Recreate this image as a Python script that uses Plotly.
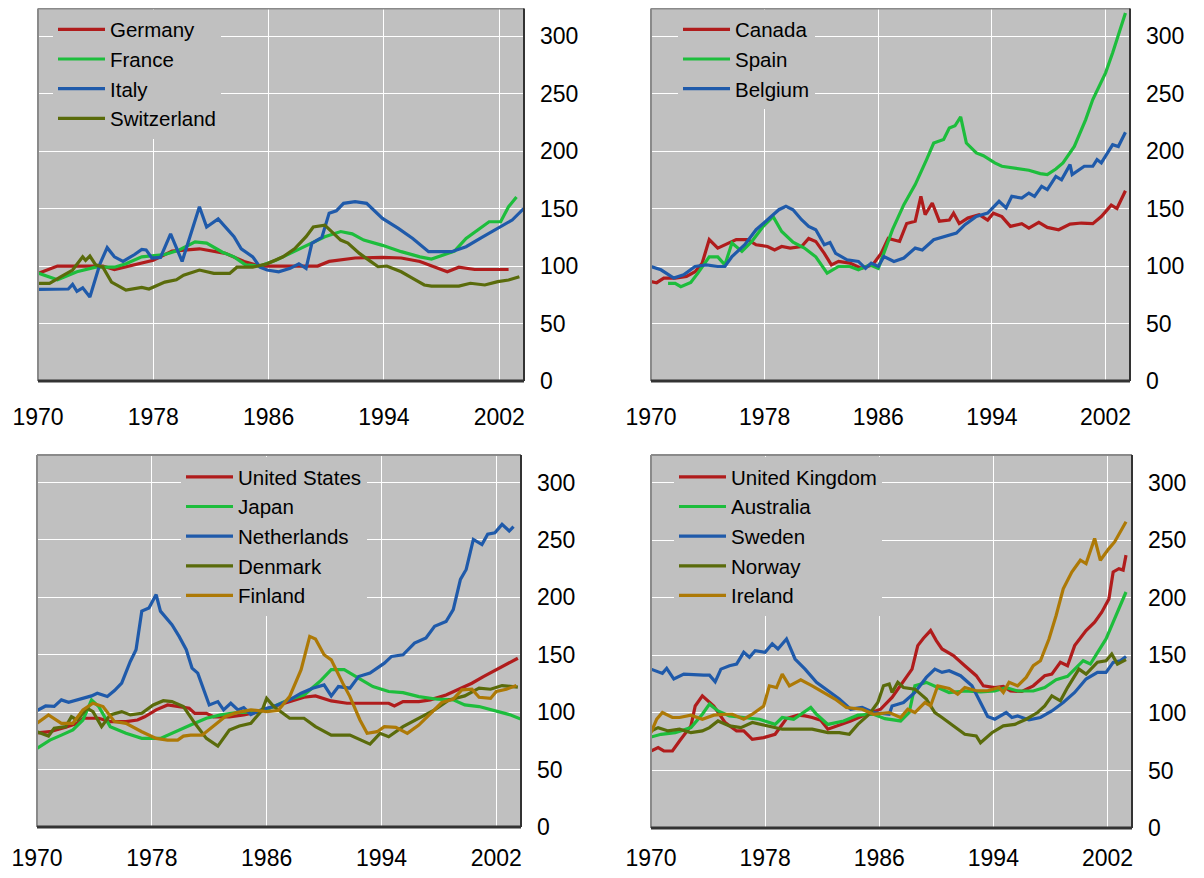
import plotly.graph_objects as go

# ---------------- data (index, 1985/86 = 100) ----------------
# Panel 1
germany_x = [1970.0, 1971.35, 1974.5, 1975.3, 1978.0, 1979.3, 1981.2, 1983.0, 1984.3, 1985.4, 1986.7, 1989.4, 1990.2, 1992.0, 1993.9, 1995.2, 1996.5, 1997.3, 1998.4, 1999.2, 2000.3, 2002.65]
germany_y = [93.6, 100, 100, 97, 105, 113, 115, 111, 104, 100, 100, 100, 104, 107, 107.5, 107, 104, 100, 95, 99, 97, 97]
france_x = [1970.0, 1971.35, 1972.7, 1974.0, 1975.3, 1976.1, 1977.2, 1978.8, 1979.8, 1980.9, 1981.7, 1982.8, 1983.6, 1984.4, 1985.4, 1986.5, 1987.5, 1988.6, 1989.9, 1991.0, 1991.8, 1992.6, 1993.9, 1995.2, 1996.5, 1997.3, 1998.1, 1998.9, 1999.7, 2000.5, 2001.3, 2002.1, 2002.65, 2003.2]
france_y = [94, 88, 95, 99, 99, 102, 108, 110, 114, 121, 120, 112, 108, 101, 100, 105, 111, 118, 125.5, 130, 128, 122.6, 118, 112.5, 108, 106, 109.6, 113, 124, 131, 138.5, 138.5, 151.6, 160]
italy_x = [1970.0, 1970.8, 1972.1, 1972.4, 1972.7, 1973.1, 1973.6, 1974.3, 1974.8, 1975.3, 1975.9, 1976.7, 1977.2, 1977.5, 1977.9, 1978.5, 1979.2, 1980.0, 1981.2, 1981.7, 1982.5, 1983.6, 1984.1, 1984.9, 1985.4, 1985.9, 1986.7, 1987.5, 1988.1, 1988.6, 1989.0, 1989.7, 1990.2, 1990.7, 1991.2, 1992.0, 1992.8, 1993.9, 1995.0, 1996.0, 1997.1, 1998.7, 1999.7, 2000.8, 2001.9, 2002.9, 2003.7]
italy_y = [79.7, 80, 80, 84, 78, 81, 73, 102, 116, 108, 104, 110, 114.5, 114, 107, 107.5, 128, 104, 151.6, 134, 141, 125.5, 115, 108, 99, 96.5, 95, 98, 102, 98, 119.7, 125, 146, 148, 154.5, 156, 154.5, 141.4, 132.8, 124, 112.5, 112.5, 116.8, 125, 132.8, 140, 150]
swiss_x = [1970.0, 1970.8, 1971.6, 1972.4, 1973.1, 1973.3, 1973.6, 1974.0, 1974.5, 1975.1, 1976.1, 1977.2, 1977.7, 1978.8, 1979.6, 1980.1, 1981.2, 1982.2, 1983.3, 1983.8, 1984.9, 1985.9, 1987.0, 1987.8, 1988.6, 1989.1, 1989.9, 1990.5, 1991.0, 1991.5, 1992.3, 1993.1, 1993.6, 1994.2, 1995.2, 1996.0, 1996.8, 1997.3, 1999.2, 2000.0, 2001.0, 2001.9, 2002.65, 2003.4]
swiss_y = [85, 85, 90.7, 96.5, 108, 105, 108.7, 101, 99, 86, 79, 81.4, 80, 86, 88, 92, 96.5, 93.6, 93.6, 99, 99, 102, 108, 115, 125.5, 134, 135.6, 128, 122.6, 120, 111, 103.8, 99.4, 100, 95, 89.3, 83.5, 82.6, 82.6, 85, 83.5, 86.4, 87.8, 90.7]

# Panel 2
canada_x = [1970.0, 1970.4, 1970.9, 1971.7, 1972.5, 1973.1, 1973.6, 1974.1, 1974.7, 1975.2, 1976.0, 1976.8, 1977.4, 1978.2, 1978.7, 1979.2, 1979.8, 1980.6, 1981.1, 1981.6, 1982.2, 1982.7, 1983.2, 1984.0, 1984.8, 1985.6, 1986.2, 1986.7, 1987.5, 1988.0, 1988.6, 1989.0, 1989.3, 1989.8, 1990.3, 1991.0, 1991.3, 1991.7, 1992.3, 1993.1, 1993.7, 1994.1, 1994.7, 1995.3, 1996.1, 1996.6, 1997.3, 1997.9, 1998.7, 1999.5, 2000.3, 2001.1, 2001.7, 2002.4, 2002.8, 2003.4]
canada_y = [86.5, 85.5, 89.5, 89.5, 91, 95, 102.5, 123, 115.6, 118.5, 123, 123, 118.5, 117, 114, 117, 115.6, 117, 124, 121.4, 111, 101, 104, 102.5, 98, 101, 111, 124, 121.4, 137, 139, 160.6, 144.6, 154.8, 139, 140, 146, 137, 141.7, 144.6, 140, 146, 143, 134.5, 136.8, 133, 138, 133.6, 131.6, 136.5, 137.4, 136.8, 143, 153, 150, 165.5]
spain_x = [1971.2, 1971.7, 1972.1, 1972.8, 1973.3, 1974.1, 1974.7, 1975.2, 1975.7, 1976.4, 1977.1, 1977.9, 1978.6, 1979.2, 1980.0, 1980.8, 1981.6, 1982.4, 1983.2, 1984.0, 1984.6, 1985.4, 1986.0, 1986.4, 1987.0, 1987.8, 1988.6, 1989.4, 1989.9, 1990.6, 1991.0, 1991.4, 1991.8, 1992.2, 1992.9, 1993.4, 1994.2, 1994.7, 1995.5, 1996.6, 1997.4, 1997.9, 1998.5, 1999.0, 1999.8, 2000.6, 2001.1, 2002.0, 2002.5, 2003.4]
spain_y = [85, 85, 82, 85.7, 93.8, 108, 108, 101, 120, 112.7, 121.4, 134.5, 143, 130, 120.8, 115.6, 108, 93.8, 99.6, 99.6, 96.7, 101, 98, 111, 131.6, 153.4, 170.8, 192.6, 207, 210, 220, 222, 229.7, 207, 198.4, 196, 189.7, 186.8, 185.3, 183.3, 180.4, 179.5, 184.4, 189.7, 204, 227.4, 244.8, 268, 285.5, 320]
belgium_x = [1970.0, 1970.7, 1971.6, 1972.3, 1973.1, 1973.9, 1974.7, 1975.2, 1975.7, 1976.6, 1977.4, 1978.2, 1979.0, 1979.5, 1980.0, 1980.6, 1981.1, 1981.6, 1982.2, 1982.6, 1983.0, 1983.8, 1984.6, 1985.1, 1985.5, 1986.0, 1986.4, 1987.1, 1987.8, 1988.6, 1989.1, 1989.9, 1990.6, 1991.5, 1992.1, 1992.9, 1993.7, 1994.5, 1995.0, 1995.4, 1996.1, 1996.6, 1997.0, 1997.5, 1997.9, 1998.5, 1998.9, 1999.5, 1999.65, 2000.5, 2001.1, 2001.4, 2001.7, 2002.5, 2002.9, 2003.4]
belgium_y = [99.6, 96.7, 89.5, 92.4, 99.6, 101, 99.6, 99.6, 108.3, 118.5, 131.6, 140.3, 149, 152, 149, 140.3, 134.5, 131.6, 118.5, 120.5, 111, 105.4, 104, 98, 102.5, 99.6, 108.3, 104, 107, 115.6, 114, 122.9, 125.2, 128.7, 136, 143.2, 146, 156.3, 150.5, 160.6, 159.2, 163.5, 160.6, 169.3, 166.4, 178, 175, 188.2, 179.5, 186.8, 186.8, 192.6, 189.7, 205.6, 204, 216.4]

# Panel 3
us_x = [1970.0, 1970.9, 1972.0, 1972.8, 1973.2, 1974.3, 1975.1, 1976.2, 1977.0, 1977.5, 1978.3, 1979.1, 1979.9, 1980.6, 1981.0, 1981.8, 1982.3, 1983.4, 1984.4, 1985.5, 1986.5, 1987.6, 1988.6, 1989.4, 1990.5, 1991.6, 1994.5, 1994.9, 1995.5, 1996.6, 1997.4, 1998.5, 1999.2, 2000.3, 2001.1, 2002.2, 2003.5]
us_y = [82, 83, 86.8, 90.3, 94.7, 94.7, 91.8, 91.8, 93.2, 96, 102, 106.3, 104.9, 103.4, 99, 99, 96, 96, 97.6, 100.5, 104.9, 109.2, 113, 114.2, 109.8, 107.8, 107.8, 105.4, 109.2, 109.2, 110.7, 115, 118.8, 125.2, 131, 138.4, 147]
japan_x = [1970.0, 1970.9, 1971.7, 1972.5, 1973.2, 1973.8, 1974.3, 1975.1, 1976.2, 1977.3, 1978.6, 1979.6, 1980.7, 1981.8, 1982.8, 1983.9, 1985.5, 1986.5, 1987.6, 1988.6, 1989.7, 1990.5, 1991.4, 1992.4, 1993.4, 1994.5, 1995.5, 1996.6, 1997.9, 1999.0, 1999.8, 2000.8, 2001.9, 2003.0, 2003.75]
japan_y = [68.5, 75.7, 80, 84.5, 93.2, 110.7, 104.9, 87.4, 81.6, 77.2, 77.2, 83, 88.8, 94.7, 97.6, 99.6, 100.5, 104.9, 111.3, 115, 126.7, 137, 137, 129.6, 122.3, 118, 117, 113.6, 111.3, 110.7, 106.3, 104.9, 101.4, 97.6, 93.8]
neth_x = [1970.0, 1970.6, 1971.2, 1971.7, 1972.2, 1973.0, 1973.8, 1974.2, 1974.9, 1975.4, 1975.9, 1976.5, 1976.9, 1977.3, 1977.8, 1978.3, 1978.6, 1979.4, 1979.9, 1980.4, 1980.8, 1981.2, 1982.0, 1982.6, 1983.0, 1983.5, 1984.0, 1984.4, 1984.9, 1985.7, 1986.5, 1987.6, 1988.4, 1989.2, 1990.0, 1990.5, 1991.0, 1991.8, 1992.4, 1993.2, 1993.7, 1994.2, 1994.7, 1995.5, 1996.3, 1997.1, 1997.7, 1998.5, 1999.0, 1999.5, 1999.9, 2000.4, 2001.0, 2001.4, 2001.9, 2002.4, 2002.9, 2003.2]
neth_y = [101.4, 105.4, 105, 110.7, 108.6, 111.3, 114.2, 116.5, 113.6, 118.8, 125.3, 144.2, 154.4, 188, 190.8, 202.4, 188, 176.2, 166, 154.4, 138.4, 134, 106.3, 109.2, 102, 107.8, 102, 104, 98, 102.5, 104.9, 110.7, 116.5, 120.9, 123.8, 114.2, 122.3, 120.9, 131, 134, 138.4, 142.7, 148.6, 150, 160.2, 164.6, 174.8, 179, 189.3, 215.6, 224.3, 250.5, 246, 255, 256.3, 263.6, 257.8, 261.6]
denmark_x = [1970.0, 1970.8, 1971.2, 1972.0, 1972.4, 1972.8, 1973.5, 1973.9, 1974.5, 1975.1, 1975.9, 1976.5, 1977.3, 1978.1, 1978.8, 1979.4, 1980.2, 1981.0, 1981.8, 1982.6, 1983.4, 1984.1, 1984.9, 1985.7, 1986.0, 1986.5, 1987.6, 1988.6, 1989.4, 1990.5, 1991.8, 1993.2, 1993.9, 1994.5, 1995.5, 1996.6, 1997.7, 1998.7, 1999.8, 2000.8, 2001.6, 2002.4, 2003.5]
denmark_y = [83, 79.2, 86, 87.4, 96, 93.2, 103.4, 100.5, 87.4, 97.6, 100.5, 97.6, 99, 106.3, 110, 109.2, 104.9, 90.3, 77.2, 70.5, 84.5, 88, 90.3, 102, 112, 104.9, 94.7, 94.7, 87.4, 80, 80, 72.2, 81.6, 78.6, 87.4, 94.7, 102, 110.7, 114.2, 120.9, 120, 123.2, 121.8]
finland_x = [1970.0, 1970.8, 1971.7, 1972.5, 1973.2, 1973.9, 1974.6, 1975.4, 1976.2, 1977.3, 1978.3, 1979.1, 1979.8, 1980.2, 1980.7, 1981.5, 1982.3, 1983.1, 1983.9, 1984.9, 1986.0, 1986.8, 1987.6, 1988.4, 1989.0, 1989.4, 1990.0, 1990.5, 1991.3, 1991.8, 1992.5, 1993.0, 1993.7, 1994.2, 1995.0, 1995.8, 1996.6, 1997.4, 1998.2, 1999.0, 1999.6, 2000.3, 2000.8, 2001.6, 2002.0, 2002.7, 2003.4]
finland_y = [90.3, 97.6, 90.3, 90.3, 102, 107.8, 104.9, 91.8, 90.3, 83, 77.2, 75.7, 75.7, 79.2, 80, 80, 88, 96, 99.6, 102, 100.5, 101.4, 113.6, 137, 166, 163.7, 150, 145.6, 125.3, 113.6, 93.2, 81.6, 83, 87.4, 86.8, 81.6, 88.8, 99, 108.4, 111.3, 119.4, 120, 113, 112, 118, 120, 123.2]

# Panel 4
uk_x = [1970.0, 1970.5, 1970.9, 1971.5, 1972.0, 1972.8, 1973.1, 1973.6, 1974.4, 1975.2, 1976.0, 1976.5, 1977.1, 1977.9, 1978.7, 1979.5, 1980.3, 1980.8, 1981.3, 1981.9, 1982.4, 1983.2, 1984.0, 1985.1, 1986.1, 1986.9, 1987.7, 1988.3, 1988.7, 1989.1, 1989.6, 1990.0, 1990.4, 1991.2, 1992.0, 1992.8, 1993.3, 1994.1, 1994.7, 1995.2, 1996.0, 1996.8, 1997.6, 1998.1, 1998.7, 1999.2, 1999.7, 2000.5, 2001.1, 2001.6, 2002.1, 2002.4, 2002.8, 2003.1, 2003.3]
uk_y = [66.9, 69.8, 66.9, 66.9, 75.6, 88.7, 106, 114.8, 106, 91.6, 84.3, 84.3, 77, 78.5, 81.4, 95, 98, 97.4, 96, 93.6, 85.8, 89.2, 93, 98.8, 103.2, 113.4, 128, 138, 158.4, 164.8, 171.5, 162.8, 155.5, 149.7, 141, 132.3, 123.5, 122, 123, 119, 118.6, 123.5, 132.3, 133.7, 144, 141, 158.4, 171.5, 178.8, 187.5, 199, 222.4, 225.3, 224, 237]
aus_x = [1970.0, 1970.7, 1971.7, 1972.8, 1973.6, 1974.1, 1974.7, 1975.5, 1976.5, 1977.6, 1978.7, 1979.2, 1980.0, 1981.2, 1981.6, 1982.4, 1983.5, 1984.5, 1985.6, 1986.4, 1987.5, 1988.1, 1988.5, 1989.3, 1990.1, 1990.9, 1992.0, 1993.1, 1994.1, 1994.9, 1995.7, 1996.8, 1997.6, 1998.4, 1999.2, 2000.3, 2000.8, 2001.3, 2001.9, 2002.4, 2003.3]
aus_y = [79, 81.4, 82.8, 87.2, 98.8, 107.6, 101.7, 97.4, 96, 94.5, 90, 96, 94.5, 104.7, 98.8, 90, 93, 98, 98.8, 95, 93, 100.3, 123.5, 126.5, 122, 117.7, 119, 118.3, 119, 122, 119, 119, 122, 128.8, 131.7, 145.3, 142.4, 152.6, 164.2, 178.8, 205]
sweden_x = [1970.0, 1970.8, 1971.1, 1971.6, 1972.3, 1973.3, 1973.7, 1974.1, 1974.5, 1974.9, 1975.5, 1976.0, 1976.5, 1976.9, 1977.3, 1978.0, 1978.5, 1978.9, 1979.5, 1980.1, 1980.8, 1981.6, 1982.4, 1983.2, 1984.0, 1984.8, 1985.6, 1986.7, 1986.9, 1987.7, 1988.5, 1989.3, 1989.9, 1990.4, 1990.9, 1991.7, 1992.5, 1993.1, 1993.6, 1994.1, 1994.9, 1995.3, 1995.7, 1996.5, 1997.3, 1998.1, 1998.9, 1999.7, 2000.5, 2001.3, 2001.9, 2002.4, 2002.9, 2003.3]
sweden_y = [138, 134.3, 138.7, 129.4, 133.7, 132.8, 132.8, 132.8, 127, 138, 141, 142.4, 152.6, 148.3, 154, 152.6, 160, 155.5, 164.2, 146.8, 138, 126.5, 119, 112, 103.2, 104.7, 100.3, 98.8, 106, 109, 117.7, 130.8, 138, 135.2, 136.6, 132.3, 123.5, 109, 96.8, 94.5, 100.3, 96, 97.4, 93.9, 96, 101.7, 109, 117.7, 129.4, 135.2, 135.2, 143.9, 145.3, 149]
norway_x = [1970.0, 1970.5, 1971.2, 1972.0, 1972.8, 1973.6, 1974.1, 1974.7, 1975.5, 1976.3, 1977.1, 1978.1, 1979.2, 1980.3, 1981.3, 1982.4, 1983.2, 1983.9, 1984.5, 1985.3, 1985.9, 1986.3, 1986.7, 1986.9, 1987.3, 1987.7, 1988.5, 1989.3, 1989.9, 1990.4, 1991.2, 1992.0, 1992.8, 1993.1, 1993.9, 1994.7, 1995.5, 1996.3, 1997.1, 1997.6, 1998.1, 1998.7, 1999.2, 2000.0, 2000.5, 2001.3, 2001.9, 2002.3, 2002.7, 2003.3]
norway_y = [84.3, 87.2, 84.3, 85.8, 82.8, 84.3, 87.2, 93, 88.7, 87.2, 91.6, 88.7, 85.8, 85.8, 85.8, 82.8, 82.8, 81.4, 90, 98.8, 109, 123.5, 125, 117.7, 126.5, 122, 120.6, 112, 100.3, 96, 88.7, 81.4, 80, 74, 82.8, 88.7, 90, 94.5, 100.3, 106, 114.8, 110.5, 122, 138, 133.7, 144, 145.3, 151.2, 142.4, 146.2]
ireland_x = [1970.0, 1970.4, 1970.8, 1971.5, 1972.0, 1972.8, 1973.6, 1974.4, 1975.2, 1975.7, 1976.5, 1977.1, 1977.9, 1978.3, 1978.8, 1979.2, 1979.7, 1980.5, 1981.3, 1982.1, 1982.9, 1983.7, 1984.8, 1985.6, 1986.7, 1987.5, 1988.0, 1988.5, 1989.2, 1989.6, 1990.1, 1990.9, 1991.5, 1992.0, 1992.8, 1993.6, 1994.4, 1994.7, 1995.1, 1995.7, 1996.3, 1996.8, 1997.3, 1997.9, 1998.4, 1998.9, 1999.5, 2000.1, 2000.5, 2001.1, 2001.5, 2002.1, 2002.5, 2003.3]
ireland_y = [82.8, 94.5, 100.3, 96, 96, 98, 94.5, 98, 98.8, 98.8, 94.5, 98.8, 106, 123.5, 122, 133.7, 123.5, 128.8, 123.5, 117.7, 112, 104.7, 103.2, 98.8, 100.3, 96, 103.2, 100.3, 109, 106, 123.5, 121.2, 116.3, 122, 119.2, 119.2, 122, 117.7, 126.5, 123.5, 130.8, 141, 145.3, 164.2, 184.6, 207.8, 222.4, 232.6, 229.7, 251.5, 232.6, 242.7, 248.5, 266]

x_ticks = [1970, 1978, 1986, 1994, 2002]
y_ticks = [0, 50, 100, 150, 200, 250, 300]

# ---------------- styling ----------------
RED, GREEN, BLUE, OLIVE, GOLD = "#b01c1c", "#1dbd3c", "#1f5aaa", "#5a6b0b", "#ad7906"
BG = "#c0c0c0"
FONT = "Liberation Sans, Arial, sans-serif"
W, H = 1188, 862          # page body has an 8px margin in the 1204x878 window

panels = [
    # (axis suffix, legend id, px box [x0, x1, y0, y1], legend px [left, top], x-label standoff, series)
    ("", "legend", [30, 516, 0.5, 373], [45, 1.5], 20,
     [("Germany", germany_x, germany_y, RED), ("France", france_x, france_y, GREEN),
      ("Italy", italy_x, italy_y, BLUE), ("Switzerland", swiss_x, swiss_y, OLIVE)]),
    ("2", "legend2", [643, 1122, 0.5, 373], [670, 1.5], 20,
     [("Canada", canada_x, canada_y, RED), ("Spain", spain_x, spain_y, GREEN),
      ("Belgium", belgium_x, belgium_y, BLUE)]),
    ("3", "legend3", [29, 513, 447, 819], [173, 449], 15,
     [("United States", us_x, us_y, RED), ("Japan", japan_x, japan_y, GREEN),
      ("Netherlands", neth_x, neth_y, BLUE), ("Denmark", denmark_x, denmark_y, OLIVE),
      ("Finland", finland_x, finland_y, GOLD)]),
    ("4", "legend4", [643, 1124, 447, 820], [666, 449], 14,
     [("United Kingdom", uk_x, uk_y, RED), ("Australia", aus_x, aus_y, GREEN),
      ("Sweden", sweden_x, sweden_y, BLUE), ("Norway", norway_x, norway_y, OLIVE),
      ("Ireland", ireland_x, ireland_y, GOLD)]),
]

fig = go.Figure()
layout = dict(width=W, height=H, margin=dict(l=0, r=0, t=0, b=0, autoexpand=False),
              paper_bgcolor="white", plot_bgcolor=BG, showlegend=True,
              font=dict(family=FONT, size=20, color="black"), shapes=[])

for suf, leg, box, lpos, xstand, series in panels:
    xa, ya = "x" + suf, "y" + suf
    for name, xs, ys, col in series:
        fig.add_trace(go.Scatter(x=xs, y=ys, name=name, mode="lines",
                                 line=dict(color=col, width=3.2),
                                 xaxis=xa, yaxis=ya, legend=leg, hoverinfo="skip"))
    x0, x1, y0, y1 = box
    layout["xaxis" + suf] = dict(domain=[x0 / W, x1 / W], range=[1970, 2003.72],
                                 tickvals=x_ticks, ticktext=[str(v) for v in x_ticks],
                                 showgrid=True, gridcolor="white", gridwidth=1.2,
                                 zeroline=False, showline=False, ticks="",
                                 ticklabelstandoff=xstand, anchor=ya, automargin=False,
                                 tickfont=dict(size=23, family=FONT, color="black"))
    layout["yaxis" + suf] = dict(domain=[1 - y1 / H, 1 - y0 / H], range=[0, 324],
                                 tickvals=y_ticks, side="right",
                                 showgrid=True, gridcolor="white", gridwidth=1.2,
                                 zeroline=False, showline=False, ticks="",
                                 ticklabelstandoff=15, anchor=xa, automargin=False,
                                 tickfont=dict(size=23, family=FONT, color="black"))
    layout[leg] = dict(x=lpos[0] / W, y=1 - lpos[1] / H, xanchor="left", yanchor="top",
                       bgcolor=BG, borderwidth=0, itemwidth=47,
                       font=dict(size=20.5, family=FONT, color="black"),
                       itemclick=False, itemdoubleclick=False)
    xr, yr = xa + " domain", ya + " domain"
    layout["shapes"] += [
        dict(type="line", xref=xr, yref=yr, x0=0, x1=1, y0=1, y1=1, line=dict(color="#8a8a8a", width=2)),
        dict(type="line", xref=xr, yref=yr, x0=0, x1=0, y0=0, y1=1, line=dict(color="#8a8a8a", width=2)),
        dict(type="line", xref=xr, yref=yr, x0=1, x1=1, y0=0, y1=1, line=dict(color="#333333", width=2)),
        dict(type="line", xref=xr, yref=yr, x0=0, x1=1, y0=0, y1=0, line=dict(color="#333333", width=3)),
    ]

fig.update_layout(**layout)
fig.write_html("out.html")
